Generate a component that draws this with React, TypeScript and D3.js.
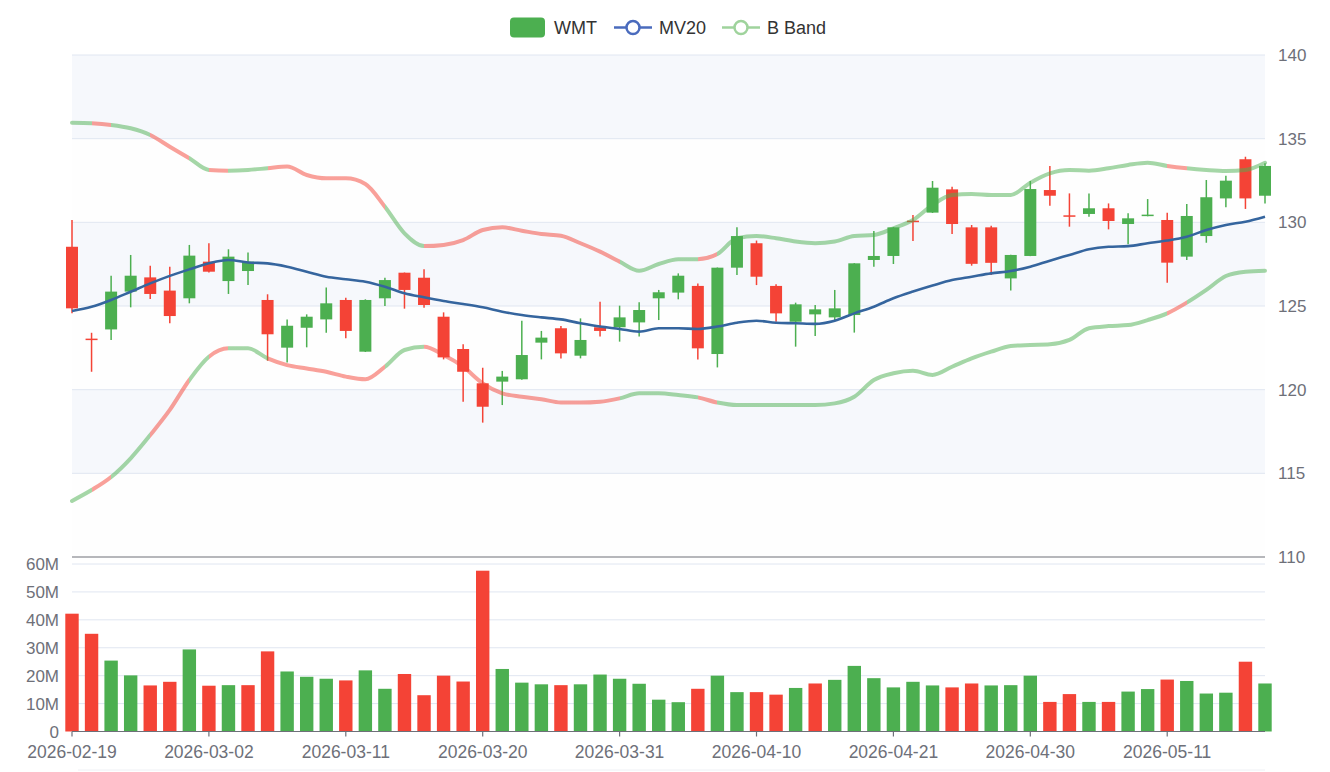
import React, { useEffect, useRef } from 'react';
import * as d3 from 'd3';

// WMT daily candles, Feb 19 - May 18 2026
const dates = [
    '2026-02-19', '2026-02-20', '2026-02-23', '2026-02-24', '2026-02-25', '2026-02-26', '2026-02-27',
    '2026-03-02', '2026-03-03', '2026-03-04', '2026-03-05', '2026-03-06', '2026-03-09', '2026-03-10',
    '2026-03-11', '2026-03-12', '2026-03-13', '2026-03-16', '2026-03-17', '2026-03-18', '2026-03-19',
    '2026-03-20', '2026-03-23', '2026-03-24', '2026-03-25', '2026-03-26', '2026-03-27', '2026-03-30',
    '2026-03-31', '2026-04-01', '2026-04-02', '2026-04-06', '2026-04-07', '2026-04-08', '2026-04-09',
    '2026-04-10', '2026-04-13', '2026-04-14', '2026-04-15', '2026-04-16', '2026-04-17', '2026-04-20',
    '2026-04-21', '2026-04-22', '2026-04-23', '2026-04-24', '2026-04-27', '2026-04-28', '2026-04-29',
    '2026-04-30', '2026-05-01', '2026-05-04', '2026-05-05', '2026-05-06', '2026-05-07', '2026-05-08',
    '2026-05-11', '2026-05-12', '2026-05-13', '2026-05-14', '2026-05-15', '2026-05-18',
];

const openPrices = [
    128.54, 123.05, 123.60, 125.86, 126.71, 125.92, 125.46, 127.65, 126.49, 127.09,
    125.36, 122.51, 123.70, 124.20, 125.36, 122.27, 125.46, 126.99, 126.69, 124.36,
    122.43, 120.38, 120.48, 120.62, 122.81, 123.67, 122.03, 123.73, 123.73, 124.02,
    125.46, 125.80, 126.20, 122.13, 127.29, 128.75, 126.20, 124.06, 124.50, 124.32,
    124.46, 127.75, 127.99, 130.10, 130.58, 131.97, 129.70, 129.70, 126.65, 127.99,
    131.93, 130.42, 130.50, 130.84, 129.90, 130.38, 130.14, 127.95, 129.18, 131.43,
    133.77, 131.59,
];

const closePrices = [
    124.86, 123.00, 125.86, 126.81, 125.72, 124.40, 128.01, 127.05, 127.95, 127.65,
    123.31, 123.82, 124.36, 125.16, 123.51, 125.36, 126.55, 125.96, 125.06, 121.93,
    121.07, 118.98, 120.78, 122.07, 123.11, 122.17, 122.97, 123.51, 124.32, 124.76,
    125.82, 126.81, 122.47, 127.29, 129.18, 126.75, 124.56, 125.10, 124.80, 124.86,
    127.55, 127.99, 129.70, 130.02, 132.07, 129.90, 127.52, 127.58, 128.05, 131.99,
    131.59, 130.38, 130.84, 130.08, 130.24, 130.46, 127.59, 130.38, 131.50, 132.49,
    131.43, 133.37,
];

const lowPrices = [
    124.56, 121.07, 122.97, 124.92, 125.42, 123.97, 125.16, 127.00, 125.72, 126.25,
    121.73, 121.63, 122.53, 123.40, 123.07, 122.25, 125.00, 124.84, 124.90, 121.81,
    119.28, 118.03, 119.08, 120.60, 121.81, 121.87, 121.87, 123.17, 122.87, 123.17,
    124.16, 125.40, 121.81, 121.33, 126.85, 126.25, 124.06, 122.57, 123.21, 124.16,
    123.41, 127.35, 127.51, 128.88, 130.56, 129.30, 127.41, 126.85, 125.92, 127.98,
    130.99, 129.74, 130.34, 129.58, 128.69, 130.36, 126.39, 127.75, 128.78, 130.90,
    130.80, 131.13,
];

const highPrices = [
    130.14, 123.40, 126.81, 128.05, 127.41, 127.35, 128.65, 128.75, 128.39, 128.19,
    125.70, 124.20, 124.50, 126.10, 125.50, 125.40, 126.69, 127.00, 127.19, 124.62,
    122.71, 121.31, 121.12, 124.12, 123.51, 123.80, 124.26, 125.26, 125.02, 125.22,
    125.96, 126.95, 126.35, 127.30, 129.70, 128.91, 126.30, 125.20, 125.06, 125.96,
    127.56, 129.48, 129.72, 130.44, 132.47, 132.13, 129.84, 129.80, 128.07, 132.47,
    133.37, 131.73, 131.73, 131.13, 130.54, 131.39, 130.58, 131.10, 132.53, 132.79,
    133.92, 133.53,
];

// millions of shares
const volumes = [
    42.2, 35.0, 25.4, 20.1, 16.5, 17.8, 29.4, 16.4, 16.6, 16.6,
    28.7, 21.5, 19.6, 18.9, 18.3, 21.9, 15.3, 20.6, 13.0, 20.0,
    17.9, 57.6, 22.4, 17.5, 16.9, 16.6, 16.9, 20.4, 18.9, 17.1,
    11.4, 10.5, 15.3, 20.0, 14.1, 14.1, 13.2, 15.6, 17.2, 18.5,
    23.5, 19.1, 15.8, 17.8, 16.5, 15.8, 17.2, 16.5, 16.6, 20.0,
    10.6, 13.4, 10.6, 10.6, 14.3, 15.2, 18.6, 18.1, 13.6, 13.9,
    25.0, 17.2,
];

const mv20 = [
    124.70, 124.95, 125.36, 125.85, 126.35, 126.80, 127.19, 127.55, 127.75, 127.60,
    127.55, 127.35, 127.05, 126.75, 126.60, 126.45, 126.15, 125.76, 125.52, 125.30,
    125.12, 124.92, 124.66, 124.46, 124.32, 124.20, 123.97, 123.77, 123.63, 123.47,
    123.67, 123.67, 123.63, 123.77, 124.00, 124.12, 124.00, 123.97, 123.93, 124.12,
    124.56, 124.96, 125.46, 125.86, 126.22, 126.55, 126.75, 126.95, 127.09, 127.35,
    127.71, 128.05, 128.39, 128.54, 128.58, 128.75, 128.91, 129.14, 129.54, 129.84,
    130.04, 130.34,
];

const bandUpper = [
    135.95, 135.92, 135.82, 135.62, 135.22, 134.52, 133.83, 133.13, 133.09, 133.13,
    133.23, 133.33, 132.83, 132.63, 132.63, 132.29, 130.93, 129.34, 128.58, 128.65,
    128.94, 129.54, 129.70, 129.50, 129.30, 129.20, 128.75, 128.25, 127.65, 127.11,
    127.51, 127.79, 127.80, 128.11, 129.05, 129.18, 129.05, 128.85, 128.75, 128.85,
    129.18, 129.24, 129.64, 130.14, 131.04, 131.63, 131.69, 131.63, 131.63, 132.37,
    132.93, 133.13, 133.09, 133.23, 133.43, 133.56, 133.37, 133.23, 133.13, 133.07,
    133.13, 133.56,
];

const bandLower = [
    113.35, 114.00, 114.78, 115.90, 117.29, 118.79, 120.58, 121.97, 122.47, 122.47,
    121.87, 121.47, 121.27, 121.07, 120.78, 120.62, 121.37, 122.37, 122.57, 122.07,
    121.37, 120.38, 119.78, 119.58, 119.43, 119.23, 119.23, 119.28, 119.48, 119.78,
    119.78, 119.68, 119.54, 119.23, 119.08, 119.08, 119.08, 119.08, 119.08, 119.18,
    119.58, 120.58, 120.98, 121.13, 120.88, 121.37, 121.87, 122.27, 122.61, 122.67,
    122.71, 122.97, 123.67, 123.80, 123.86, 124.16, 124.56, 125.20, 125.96, 126.79,
    127.05, 127.11,
];

const priceTicks = [110, 115, 120, 125, 130, 135, 140];
const volumeTicks = [0, 10, 20, 30, 40, 50, 60];
const labelStep = 7;

const UP = '#4caf50';
const DOWN = '#f44336';
const AXIS = '#6e7079';
const GRID = '#e0e6f1';
const MA_COLOR = '#35659e';
const FONT = '"Liberation Sans", Arial, Helvetica, sans-serif';

const App = () => {
    const svgRef = useRef<SVGSVGElement>(null);

    useEffect(() => {
        const svg = d3.select(svgRef.current);
        svg.selectAll('*').remove();

        const left = 72, right = 1265;
        const priceTop = 55, priceBottom = 557;
        const volTop = 564, volBottom = 731.5;

        const x = d3.scalePoint<string>().domain(dates).range([left, right]);
        const yPrice = d3.scaleLinear().domain([110, 140]).range([priceBottom, priceTop]);
        const yVol = d3.scaleLinear().domain([0, 60]).range([volBottom, volTop]);
        const idx = d3.range(dates.length);

        // alternating split areas
        const areas = svg.append('g');
        for (let k = 0; k < priceTicks.length - 1; k++) {
            areas.append('rect')
                .attr('x', left).attr('width', right - left)
                .attr('y', yPrice(priceTicks[k + 1]))
                .attr('height', yPrice(priceTicks[k]) - yPrice(priceTicks[k + 1]))
                .attr('fill', k % 2 === 0 ? '#fefefe' : '#f6f8fc');
        }

        // price grid + right axis
        svg.append('g').selectAll('line')
            .data(priceTicks.filter(t => t !== 110))
            .join('line')
            .attr('x1', left).attr('x2', right)
            .attr('y1', d => yPrice(d)).attr('y2', d => yPrice(d))
            .attr('stroke', GRID).attr('stroke-width', 1);
        svg.append('line')
            .attr('x1', left).attr('x2', right)
            .attr('y1', priceBottom).attr('y2', priceBottom)
            .attr('stroke', AXIS).attr('stroke-width', 1.2);
        svg.append('g').selectAll('text')
            .data(priceTicks)
            .join('text')
            .attr('x', 1278).attr('y', d => yPrice(d))
            .attr('dy', '0.36em')
            .attr('font-family', FONT).attr('font-size', 17)
            .attr('fill', AXIS)
            .text(d => d);

        // volume grid + left axis
        svg.append('g').selectAll('line')
            .data(volumeTicks.filter(t => t !== 0))
            .join('line')
            .attr('x1', left).attr('x2', right)
            .attr('y1', d => yVol(d)).attr('y2', d => yVol(d))
            .attr('stroke', GRID).attr('stroke-width', 1);
        svg.append('g').selectAll('text')
            .data(volumeTicks)
            .join('text')
            .attr('x', 59).attr('y', d => yVol(d))
            .attr('dy', '0.36em')
            .attr('text-anchor', 'end')
            .attr('font-family', FONT).attr('font-size', 17)
            .attr('fill', AXIS)
            .text(d => (d === 0 ? '0' : d + 'M'));

        // volume bars: colored by change from previous close
        const volUp = (i: number) => (i === 0 ? closePrices[0] >= openPrices[0] : closePrices[i] >= closePrices[i - 1]);
        const barW = 13.4;
        svg.append('g').selectAll('rect')
            .data(idx)
            .join('rect')
            .attr('x', i => x(dates[i])! - barW / 2)
            .attr('width', barW)
            .attr('y', i => yVol(volumes[i]))
            .attr('height', i => yVol(0) - yVol(volumes[i]))
            .attr('fill', i => (volUp(i) ? UP : DOWN));

        svg.append('line')
            .attr('x1', left).attr('x2', right)
            .attr('y1', volBottom).attr('y2', volBottom)
            .attr('stroke', AXIS).attr('stroke-width', 1.2);

        const labelled = idx.filter(i => i % labelStep === 0);
        svg.append('g').selectAll('line')
            .data(labelled)
            .join('line')
            .attr('x1', i => x(dates[i])!).attr('x2', i => x(dates[i])!)
            .attr('y1', volBottom).attr('y2', volBottom + 5)
            .attr('stroke', AXIS).attr('stroke-width', 1.2);
        svg.append('g').selectAll('text')
            .data(labelled)
            .join('text')
            .attr('x', i => x(dates[i])!).attr('y', 758)
            .attr('text-anchor', 'middle')
            .attr('font-family', FONT).attr('font-size', 17.5)
            .attr('fill', AXIS)
            .text(i => dates[i]);

        svg.append('line')
            .attr('x1', 78).attr('x2', right)
            .attr('y1', 770).attr('y2', 770)
            .attr('stroke', '#eef0f5').attr('stroke-width', 1);

        // candles
        const candleW = 12;
        const candles = svg.append('g').selectAll('g')
            .data(idx)
            .join('g');
        const cColor = (i: number) => (closePrices[i] >= openPrices[i] ? UP : DOWN);
        candles.append('line')
            .attr('x1', i => x(dates[i])!).attr('x2', i => x(dates[i])!)
            .attr('y1', i => yPrice(highPrices[i])).attr('y2', i => yPrice(lowPrices[i]))
            .attr('stroke', cColor).attr('stroke-width', 1.5);
        candles.append('rect')
            .attr('x', i => x(dates[i])! - candleW / 2)
            .attr('width', candleW)
            .attr('y', i => yPrice(Math.max(openPrices[i], closePrices[i])))
            .attr('height', i => Math.max(1.5, Math.abs(yPrice(openPrices[i]) - yPrice(closePrices[i]))))
            .attr('fill', cColor);

        // moving average
        const line = d3.line<number>()
            .x((d, i) => x(dates[i])!)
            .y(d => yPrice(d))
            .curve(d3.curveMonotoneX);
        svg.append('path')
            .attr('d', line(mv20))
            .attr('fill', 'none')
            .attr('stroke', MA_COLOR)
            .attr('stroke-width', 2.6);

        // bollinger bands, colored by close vs MV20
        const defs = svg.append('defs');
        const grad = defs.append('linearGradient')
            .attr('id', 'bandGrad')
            .attr('gradientUnits', 'userSpaceOnUse')
            .attr('x1', left).attr('x2', right)
            .attr('y1', 0).attr('y2', 0);
        const span = right - left;
        for (let i = 0; i < dates.length - 1; i++) {
            const c = closePrices[i] >= mv20[i] ? UP : DOWN;
            grad.append('stop').attr('offset', (x(dates[i])! - left) / span).attr('stop-color', c);
            grad.append('stop').attr('offset', (x(dates[i + 1])! - left) / span).attr('stop-color', c);
        }
        [bandUpper, bandLower].forEach(band => {
            svg.append('path')
                .attr('d', line(band))
                .attr('fill', 'none')
                .attr('stroke', 'url(#bandGrad)')
                .attr('stroke-opacity', 0.5)
                .attr('stroke-width', 4)
                .attr('stroke-linecap', 'round');
        });

        // legend
        const lg = svg.append('g').attr('font-family', FONT).attr('font-size', 18).attr('fill', '#333');
        lg.append('rect').attr('x', 510).attr('y', 17.5).attr('width', 35).attr('height', 20).attr('rx', 4).attr('fill', UP);
        lg.append('text').attr('x', 554).attr('y', 27.5).attr('dy', '0.36em').text('WMT');
        const lineIcon = (x0: number, color: string, label: string) => {
            lg.append('line').attr('x1', x0).attr('x2', x0 + 38).attr('y1', 27.5).attr('y2', 27.5)
                .attr('stroke', color).attr('stroke-width', 2.5);
            lg.append('circle').attr('cx', x0 + 19).attr('cy', 27.5).attr('r', 6.5)
                .attr('fill', '#fff').attr('stroke', color).attr('stroke-width', 2.5);
            lg.append('text').attr('x', x0 + 45).attr('y', 27.5).attr('dy', '0.36em').text(label);
        };
        lineIcon(614, '#4a6bbd', 'MV20');
        lineIcon(722, '#9fd39c', 'B Band');
    }, []);

    return (
        <svg ref={svgRef} width={1330} height={772}
             style={{ position: 'absolute', left: 0, top: 0, background: '#fff' }} />
    );
};

export default App;
